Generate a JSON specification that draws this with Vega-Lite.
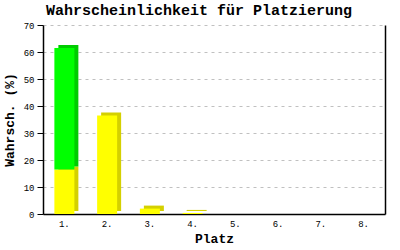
{
  "$schema": "https://vega.github.io/schema/vega-lite/v6.json",
  "width": 342,
  "height": 189,
  "autosize": {"type": "none"},
  "padding": {"left": 43, "top": 25, "right": 15, "bottom": 36},
  "background": "white",
  "title": {
    "text": "Wahrscheinlichkeit für Platzierung",
    "font": "Liberation Mono",
    "fontSize": 15,
    "fontWeight": "bold",
    "color": "black",
    "anchor": "middle",
    "dx": -15,
    "offset": 3
  },
  "data": {
    "values": [
      {"platz": "1.", "teil": "A", "wert": 16.5},
      {"platz": "1.", "teil": "B", "wert": 45.0},
      {"platz": "2.", "teil": "A", "wert": 36.5},
      {"platz": "3.", "teil": "A", "wert": 2.0},
      {"platz": "4.", "teil": "A", "wert": 0.4},
      {"platz": "5.", "teil": "A", "wert": 0},
      {"platz": "6.", "teil": "A", "wert": 0},
      {"platz": "7.", "teil": "A", "wert": 0},
      {"platz": "8.", "teil": "A", "wert": 0}
    ]
  },
  "config": {
    "view": {"stroke": null},
    "axis": {
      "labelFont": "Liberation Mono",
      "labelFontSize": 9,
      "labelColor": "black",
      "titleFont": "Liberation Mono",
      "titleFontSize": 13,
      "titleFontWeight": "bold",
      "titleColor": "black",
      "domainColor": "black",
      "tickColor": "black"
    }
  },
  "layer": [
    {
      "mark": {"type": "bar", "xOffset": 4, "yOffset": -3, "y2Offset": -1, "size": 20},
      "encoding": {
        "x": {
          "field": "platz", "type": "ordinal", "title": "Platz",
          "axis": {"labelAngle": 0, "ticks": false, "labelPadding": 5, "titlePadding": 4, "domainWidth": 1.5}
        },
        "y": {
          "field": "wert", "type": "quantitative", "title": "Wahrsch. (%)",
          "scale": {"domain": [0, 70]},
          "axis": {"values": [0,10,20,30,40,50,60,70], "tickSize": 6, "domainWidth": 1.5, "labelPadding": 3, "titlePadding": 7,
                   "gridColor": "#c0c0c0", "gridDash": [3, 4], "gridWidth": 1}
        },
        "color": {"field": "teil", "type": "nominal", "scale": {"domain": ["A", "B"], "range": ["#d4d000", "#00cc00"]}, "legend": null},
        "order": {"field": "teil"}
      }
    },
    {
      "mark": {"type": "bar", "size": 20},
      "encoding": {
        "x": {"field": "platz", "type": "ordinal"},
        "y": {
          "field": "wert", "type": "quantitative",
          "scale": {"domain": [0, 70]},
          "axis": {"orient": "right", "labels": false, "ticks": false, "grid": false, "title": null, "domainWidth": 1.5}
        },
        "fill": {"field": "teil", "type": "nominal", "scale": {"domain": ["A", "B"], "range": ["#ffff00", "#00ff00"]}, "legend": null},
        "order": {"field": "teil"}
      }
    }
  ],
  "resolve": {"axis": {"y": "independent"}, "scale": {"color": "independent"}}
}
